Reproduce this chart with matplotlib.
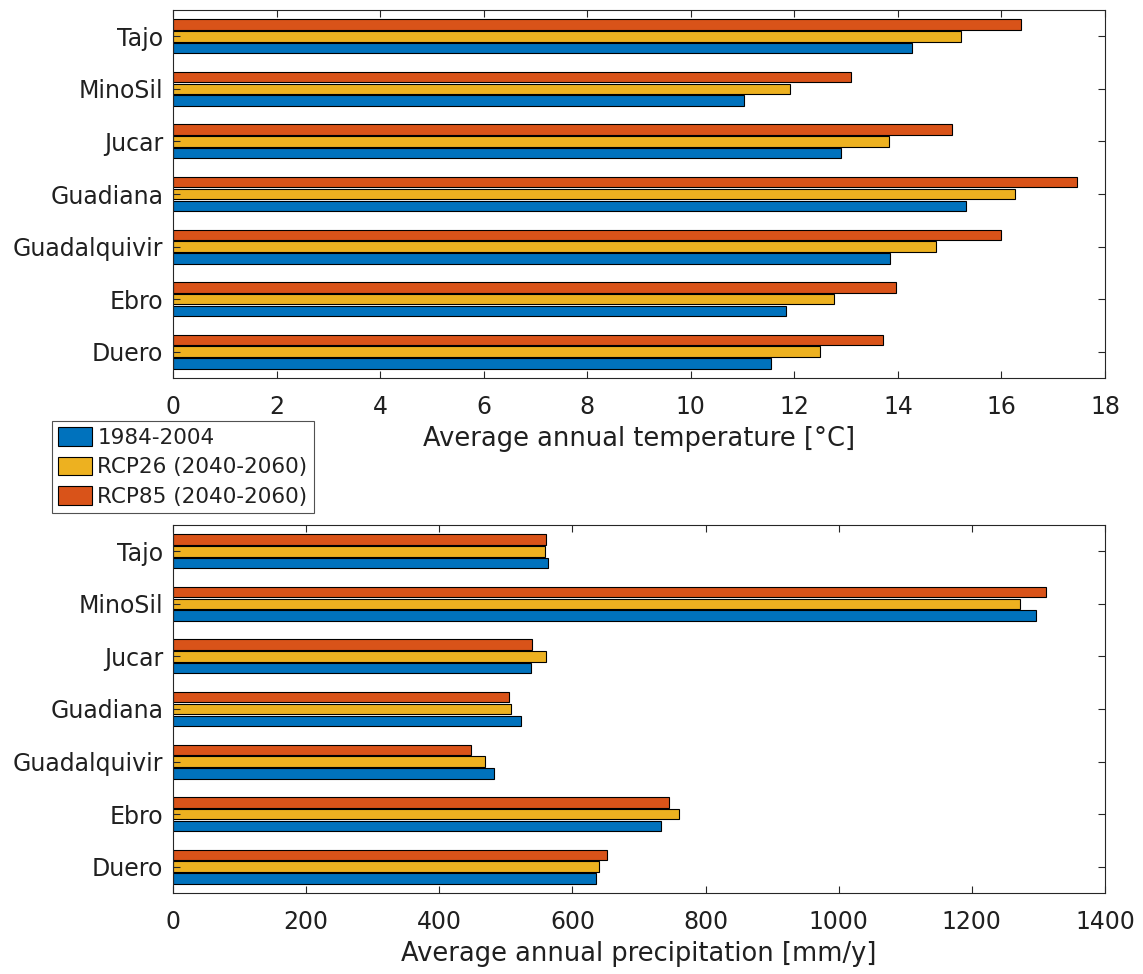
import matplotlib
matplotlib.use("Agg")
import matplotlib.pyplot as plt
import numpy as np
from matplotlib.patches import Patch

plt.rcParams['font.family'] = ['DejaVu Sans']

basins = ["Duero", "Ebro", "Guadalquivir", "Guadiana", "Jucar", "MinoSil", "Tajo"]
series_names = ["1984-2004", "RCP26 (2040-2060)", "RCP85 (2040-2060)"]
colors = ["#0072BD", "#EDB120", "#D95319"]

temp_hist = [11.55, 11.83, 13.84, 15.32, 12.90, 11.03, 14.27]
temp_rcp26 = [12.49, 12.77, 14.73, 16.27, 13.82, 11.92, 15.21]
temp_rcp85 = [13.71, 13.96, 15.99, 17.45, 15.05, 13.10, 16.38]

prec_hist = [636, 733, 482, 523, 538, 1296, 564]
prec_rcp26 = [640, 760, 469, 507, 561, 1272, 559]
prec_rcp85 = [652, 745, 447, 505, 540, 1311, 561]

W, H = 1143, 974
fig = plt.figure(figsize=(W / 100, H / 100), dpi=100)

ax_color = "#262626"
tick_fs = 17
label_fs = 18.5


def draw_panel(ax, data, xmax, xstep, xlabel):
    y = np.arange(1, len(basins) + 1)
    offsets = [-0.224, 0.0, 0.224]
    for vals, off, col in zip(data, offsets, colors):
        ax.barh(y + off, vals, height=0.2, color=col, edgecolor="black",
                linewidth=0.8)
    ax.set_ylim(0.5, len(basins) + 0.5)
    ax.set_xlim(0, xmax)
    ax.set_xticks(np.arange(0, xmax + xstep / 2, xstep))
    ax.set_yticks(y)
    ax.set_yticklabels(basins)
    ax.tick_params(direction="in", top=True, right=True, length=5,
                   width=0.8, colors=ax_color, labelsize=tick_fs,
                   labelcolor="#202020")
    ax.tick_params(axis="x", pad=12)
    ax.tick_params(axis="y", pad=7)
    for s in ax.spines.values():
        s.set_color(ax_color)
        s.set_linewidth(0.8)
    ax.set_xlabel(xlabel, fontsize=label_fs, labelpad=5, color="#202020")


ax1 = fig.add_axes([173 / W, 1 - 378 / H, 932 / W, 368 / H])
draw_panel(ax1, [temp_hist, temp_rcp26, temp_rcp85], 18, 2,
           "Average annual temperature [°C]")

ax2 = fig.add_axes([173 / W, 1 - 893 / H, 932 / W, 368 / H])
draw_panel(ax2, [prec_hist, prec_rcp26, prec_rcp85], 1400, 200,
           "Average annual precipitation [mm/y]")

handles = [Patch(facecolor=c, edgecolor="black", linewidth=0.8) for c in colors]
leg = fig.legend(handles, series_names, loc="upper left",
                 bbox_to_anchor=(52 / W, 1 - 421 / H),
                 fontsize=15.5, frameon=True, fancybox=False,
                 borderpad=0.3, handlelength=1.55, handleheight=0.95,
                 handletextpad=0.25, labelspacing=0.4, borderaxespad=0)
leg.get_frame().set_edgecolor(ax_color)
leg.get_frame().set_linewidth(0.8)
for t in leg.get_texts():
    t.set_color("#202020")

fig.savefig("out.png", dpi=100)
